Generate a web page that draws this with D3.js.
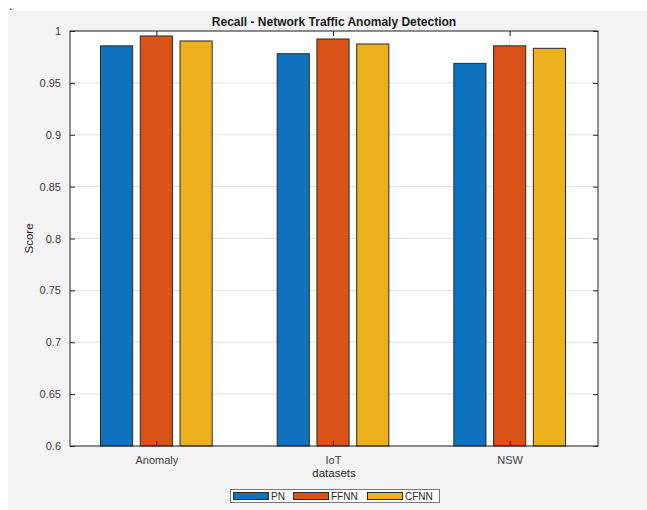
<!DOCTYPE html>
<html>
<head>
<meta charset="utf-8">
<script src="https://cdn.jsdelivr.net/npm/d3@7"></script>
<style>
  html, body { margin: 0; padding: 0; background: #ffffff; }
  svg { display: block; font-family: "Liberation Sans", Arial, sans-serif; }
</style>
</head>
<body>
<svg id="chart" width="647" height="510"></svg>
<script>
// Recall scores per dataset and model
const datasets = ["Anomaly", "IoT", "NSW"];
const models = ["PN", "FFNN", "CFNN"];
const pnValues = [0.9857, 0.9781, 0.9688];
const ffnnValues = [0.9952, 0.9923, 0.9857];
const cfnnValues = [0.9904, 0.9875, 0.9833];
const yTicks = [0.6, 0.65, 0.7, 0.75, 0.8, 0.85, 0.9, 0.95, 1];
const modelColors = ["#0f72bd", "#d95319", "#edb120"];

const seriesValues = [pnValues, ffnnValues, cfnnValues];

const svg = d3.select("#chart");
const W = 647, H = 510;

// figure background
svg.append("rect").attr("x", 8).attr("y", 11).attr("width", W - 8).attr("height", H - 11)
  .attr("fill", "#f3f3f3");
svg.append("text").attr("x", 9).attr("y", 10).attr("font-size", 12).attr("fill", "#000").text(".");

const plot = { left: 70, top: 31, right: 598, bottom: 446 };

// categorical positions 1..n with half-unit padding on each side
const x = d3.scaleLinear().domain([0.5, datasets.length + 0.5]).range([plot.left - 2, plot.right]);
const y = d3.scaleLinear().domain([0.6, 1]).range([plot.bottom, plot.top]);

const barW = 0.182;     // bar width in category units
const barStep = 0.225;  // offset between bars within a group

// axes area
svg.append("rect").attr("x", plot.left).attr("y", plot.top)
  .attr("width", plot.right - plot.left).attr("height", plot.bottom - plot.top)
  .attr("fill", "#ffffff");

// grid
const grid = svg.append("g");
grid.selectAll("line.gy").data(yTicks).join("line")
  .attr("x1", plot.left).attr("x2", plot.right)
  .attr("y1", d => y(d)).attr("y2", d => y(d))
  .attr("stroke", "#e3e3e3").attr("stroke-width", 1);
grid.selectAll("line.gx").data(datasets).join("line")
  .attr("x1", (d, i) => x(i + 1)).attr("x2", (d, i) => x(i + 1))
  .attr("y1", plot.top).attr("y2", plot.bottom)
  .attr("stroke", "#e3e3e3").attr("stroke-width", 1);

// bars
const bars = svg.append("g");
seriesValues.forEach((vals, s) => {
  bars.selectAll(null).data(vals).join("rect")
    .attr("x", (d, i) => x(i + 1 + (s - 1) * barStep - barW / 2))
    .attr("width", x(barW) - x(0))
    .attr("y", d => y(d))
    .attr("height", d => y(0.6) - y(d))
    .attr("fill", modelColors[s])
    .attr("stroke", "#2a2a2a").attr("stroke-width", 1);
});

// axes using d3 axis generators
const axisColor = "#262626";
const tickColor = "#262626";
function styleAxis(g) {
  g.select(".domain").remove();
  g.selectAll(".tick line").attr("stroke", tickColor);
  g.selectAll(".tick text").attr("fill", "#404040").attr("font-size", 11)
    .attr("font-family", "'Liberation Sans', Arial, sans-serif");
}

const yAxis = d3.axisLeft(y).tickValues(yTicks).tickSize(-5).tickPadding(9)
  .tickFormat(d => d3.format("")(+d.toFixed(2)));
svg.append("g").attr("transform", `translate(${plot.left},0)`).call(yAxis).call(styleAxis);
const yAxisR = d3.axisRight(y).tickValues(yTicks).tickSize(-5).tickFormat("");
svg.append("g").attr("transform", `translate(${plot.right},0)`).call(yAxisR).call(styleAxis);

const xAxis = d3.axisBottom(x).tickValues(d3.range(1, datasets.length + 1)).tickSize(-5).tickPadding(10)
  .tickFormat(d => datasets[d - 1]);
svg.append("g").attr("transform", `translate(0,${plot.bottom})`).call(xAxis).call(styleAxis);
const xAxisT = d3.axisTop(x).tickValues(d3.range(1, datasets.length + 1)).tickSize(-5).tickFormat("");
svg.append("g").attr("transform", `translate(0,${plot.top})`).call(xAxisT).call(styleAxis);

// box
svg.append("rect").attr("x", plot.left).attr("y", plot.top)
  .attr("width", plot.right - plot.left).attr("height", plot.bottom - plot.top)
  .attr("fill", "none").attr("stroke", axisColor).attr("stroke-width", 1);

// title and labels
svg.append("text").attr("x", (plot.left + plot.right) / 2).attr("y", 26)
  .attr("text-anchor", "middle").attr("font-weight", "bold").attr("font-size", 12)
  .attr("fill", "#1a1a1a").text("Recall - Network Traffic Anomaly Detection");
svg.append("text").attr("x", (plot.left + plot.right) / 2).attr("y", 477)
  .attr("text-anchor", "middle").attr("font-size", 11.5).attr("fill", "#262626").text("datasets");
svg.append("text").attr("transform", `translate(33,${(plot.top + plot.bottom) / 2}) rotate(-90)`)
  .attr("text-anchor", "middle").attr("font-size", 11.5).attr("fill", "#262626").text("Score");

// legend
const leg = svg.append("g");
leg.append("rect").attr("x", 230.5).attr("y", 489.5).attr("width", 209).attr("height", 13)
  .attr("fill", "#ffffff").attr("stroke", "#7a7a7a").attr("stroke-width", 1);
const legX = [233, 293, 367];
models.forEach((m, i) => {
  leg.append("rect").attr("x", legX[i] + 0.5).attr("y", 492.5).attr("width", 35).attr("height", 7)
    .attr("fill", modelColors[i]).attr("stroke", "#2a2a2a").attr("stroke-width", 1);
  leg.append("text").attr("x", legX[i] + 38).attr("y", 500).attr("font-size", 10)
    .attr("fill", "#262626").text(m);
});
</script>
</body>
</html>
